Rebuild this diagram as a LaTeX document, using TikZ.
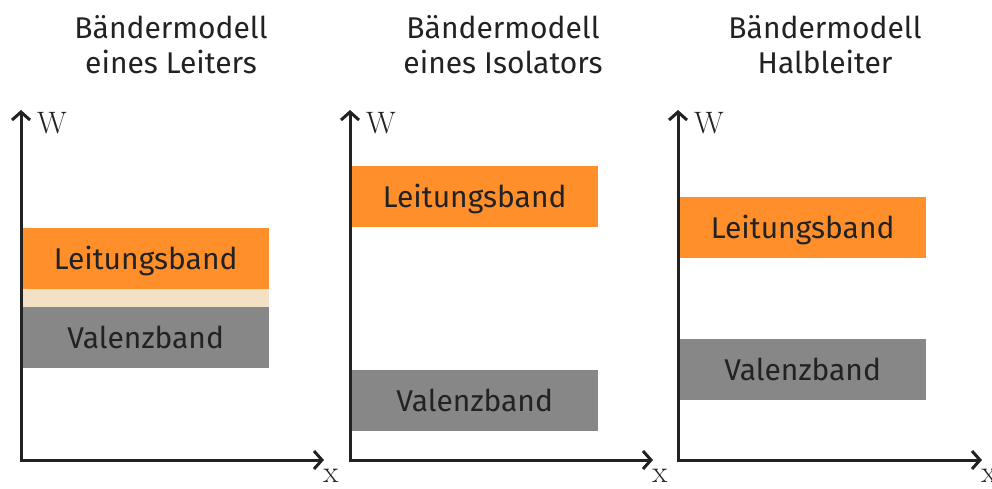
\documentclass[tikz,border=0pt]{standalone}
\usepackage{fontspec}
\setmainfont{Fira Sans}
\newfontfamily\axisfont{Latin Modern Roman}
\usetikzlibrary{arrows.meta}
\definecolor{bandorange}{HTML}{FF8F2B}
\definecolor{bandgray}{HTML}{878787}
\definecolor{gapbeige}{HTML}{F2E1C4}
\definecolor{inkdark}{HTML}{222222}
\begin{document}
\begin{tikzpicture}[x=1pt,y=-1pt,
  axes/.style={draw=inkdark, line width=3pt, line join=miter,
    {Straight Barb[length=8pt,width=18pt]}-{Straight Barb[length=8pt,width=18pt]}},
  axislabel/.style={font=\axisfont\fontsize{31}{33}\selectfont, text=inkdark, inner sep=0pt},
  title/.style={align=center, font=\fontsize{30}{35}\selectfont, text=inkdark, inner sep=0pt, anchor=north},
  bandbox/.style={anchor=north west, minimum width=247pt, minimum height=61pt, inner sep=0pt,
    font=\fontsize{30}{32}\selectfont, text=inkdark, text height=20.7pt, text depth=0pt},
  cond/.style={bandbox, fill=bandorange},
  val/.style={bandbox, fill=bandgray},
]
\useasboundingbox (0,0) rectangle (992,488);

% --- Leiter ---
\node[title] (t1) at (171,15) {Bändermodell\\eines Leiters};
\coordinate (o1) at (21,460);
\coordinate (y1) at (21,110);
\coordinate (x1) at (324,460);
\node[cond] (lb1) at (22,228) {Leitungsband};
\fill[gapbeige] (lb1.south west) rectangle (269,307) coordinate (gap1);
\node[val] (vb1) at (22,307) {Valenzband};
\draw[axes] (y1) -- (o1) -- (x1);
\node[axislabel] (w1) at (52,123) {W};
\node[axislabel] (xl1) at (331,476) {x};

% --- Isolator ---
\node[title] (t2) at (503,15) {Bändermodell\\eines Isolators};
\coordinate (o2) at (350,460);
\coordinate (y2) at (350,110);
\coordinate (x2) at (653,460);
\node[cond] (lb2) at (351,166) {Leitungsband};
\node[val] (vb2) at (351,370) {Valenzband};
\draw[axes] (y2) -- (o2) -- (x2);
\node[axislabel] (w2) at (381,123) {W};
\node[axislabel] (xl2) at (660,476) {x};

% --- Halbleiter ---
\node[title] (t3) at (825,15) {Bändermodell\\Halbleiter};
\coordinate (o3) at (678,460);
\coordinate (y3) at (678,110);
\coordinate (x3) at (982,460);
\node[cond] (lb3) at (679,197) {Leitungsband};
\node[val] (vb3) at (679,339) {Valenzband};
\draw[axes] (y3) -- (o3) -- (x3);
\node[axislabel] (w3) at (709,123) {W};
\node[axislabel] (xl3) at (989,476) {x};
\end{tikzpicture}
\end{document}
